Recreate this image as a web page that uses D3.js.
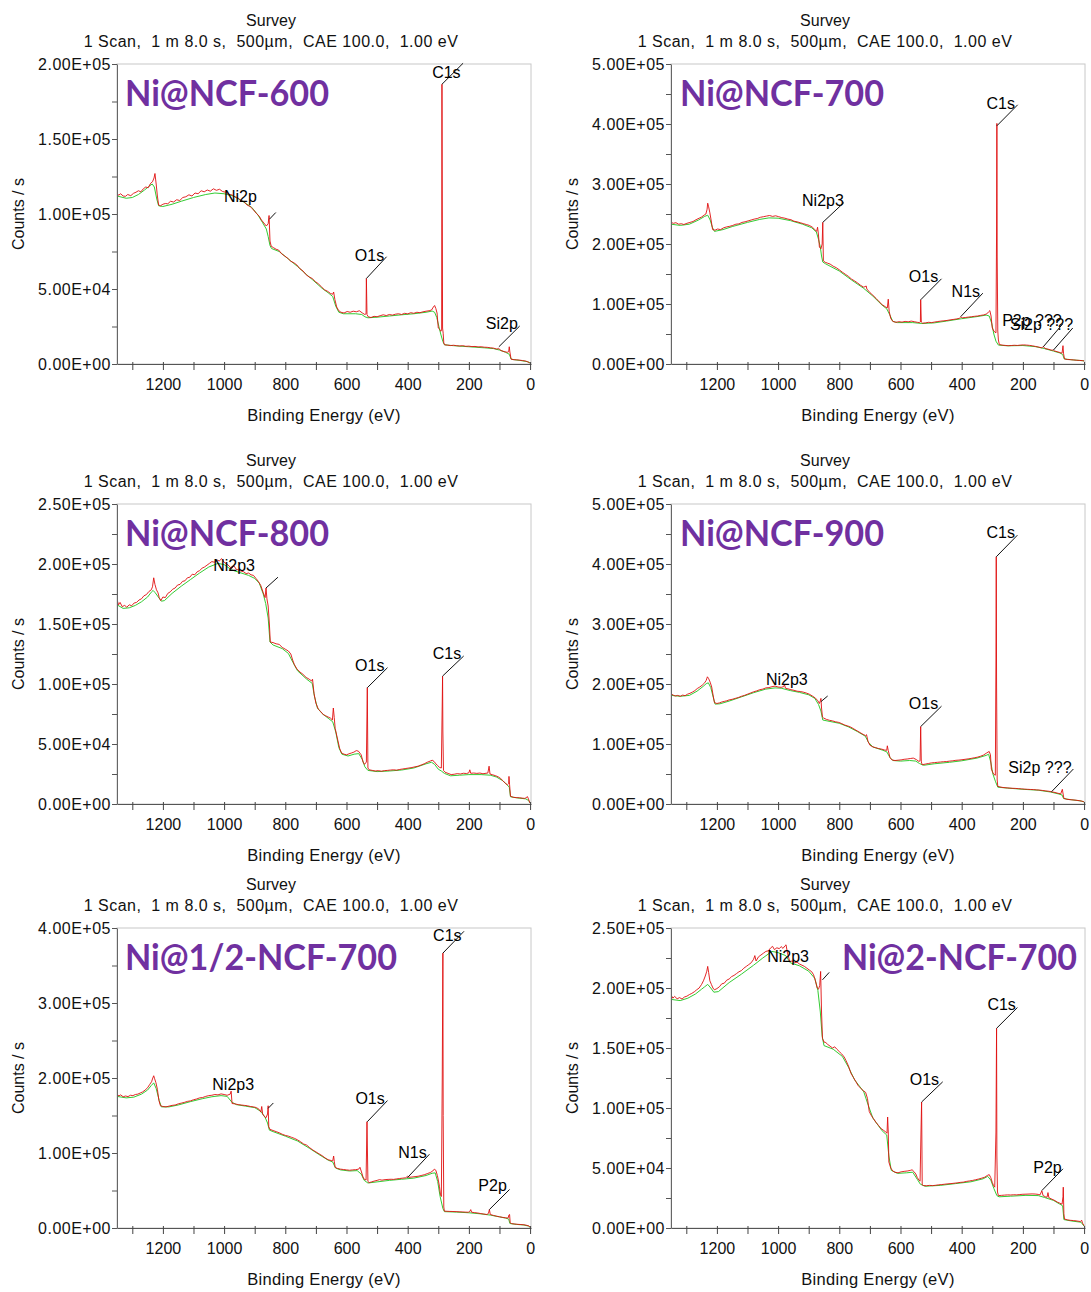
<!DOCTYPE html>
<html><head><meta charset="utf-8">
<script src="https://cdn.jsdelivr.net/npm/d3@7"></script>
<style>body{margin:0;background:#fff}svg{display:block}</style>
</head><body><svg id="c" width="1091" height="1292"></svg>
<script>
// ---------------- DATA ----------------
const sampleNames = ["Ni@NCF-600","Ni@NCF-700","Ni@NCF-800","Ni@NCF-900","Ni@1/2-NCF-700","Ni@2-NCF-700"];
const titleLine1 = "Survey";
const titleLine2 = "1 Scan,  1 m 8.0 s,  500\u00b5m,  CAE 100.0,  1.00 eV";
const xTitle = "Binding Energy (eV)";
const yTitle = "Counts / s";
const xTickLabels = [1200,1000,800,600,400,200,0];
const xAllTicks = [1300,1200,1100,1000,900,800,700,600,500,400,300,200,100,0];
const yMaxes = [200000,500000,250000,500000,400000,250000];
const yMajorSteps = [50000,100000,50000,100000,100000,50000];

const ncf600Raw = [[1350,114000],[1345,112500],[1338,113500],[1330,112000],[1322,111800],[1315,113000],[1305,112200],[1296,113800],[1288,114500],[1280,115500],[1272,114800],[1264,116800],[1256,118000],[1248,117500],[1240,120500],[1234,121500],[1229,124000],[1226,127000],[1222,120000],[1218,112000],[1214,106000],[1208,105500],[1200,106500],[1192,107000],[1184,106800],[1175,108500],[1165,108000],[1155,109500],[1145,109000],[1135,111000],[1125,111500],[1115,112800],[1105,112000],[1095,114000],[1085,113500],[1075,115500],[1065,114800],[1055,116000],[1045,115200],[1035,116800],[1025,115800],[1015,116500],[1005,115000],[995,114500],[985,113000],[975,112800],[965,111500],[955,110800],[945,109000],[935,108200],[925,106000],[915,105000],[905,103000],[895,100500],[885,98500],[878,96000],[870,94000],[862,92000],[856,93500],[853,99000],[850,82000],[846,78500],[838,77500],[830,76500],[822,76000],[812,73500],[802,72000],[792,70500],[782,68500],[772,67500],[762,66000],[752,63500],[742,62000],[732,59500],[722,58000],[712,57000],[702,55000],[692,53500],[682,51500],[672,49500],[662,48500],[652,47000],[645,46500],[642,48000],[638,43000],[632,38000],[625,35500],[618,34500],[608,34000],[598,35000],[588,34500],[578,35200],[568,34800],[558,35500],[548,34000],[540,33000],[536,33500],[535,57000],[533,33000],[529,31500],[520,31000],[510,31800],[500,31500],[490,32200],[480,32800],[470,32300],[460,33000],[450,32600],[440,33200],[430,33500],[420,33000],[410,33800],[400,33400],[390,34200],[380,33800],[370,34500],[360,34200],[350,34800],[340,35200],[330,35500],[322,36000],[316,38000],[312,39000],[308,37000],[304,34000],[300,24000],[295,23000],[292,21800],[289,22500],[288,186500],[286,24000],[284,20500],[282,14000],[279,12800],[270,12600],[260,12300],[250,12500],[240,12200],[230,12000],[220,12200],[210,11800],[200,11900],[190,11600],[180,11700],[170,11400],[160,11500],[150,11200],[140,11100],[130,10800],[120,10600],[110,10000],[102,10200],[95,9000],[85,8300],[75,7800],[70,8200],[68,11500],[66,8000],[62,3200],[55,2900],[45,2800],[35,2600],[25,2300],[15,2000],[8,1500],[3,1000],[0,300]];
const ncf600Bg = [[1350,112000],[1320,110500],[1300,111000],[1280,113000],[1260,116000],[1245,118500],[1235,120000],[1228,118000],[1220,110000],[1214,105500],[1200,105000],[1170,106500],[1140,108500],[1100,111000],[1060,113000],[1030,114000],[1000,113500],[970,112000],[940,108500],[910,104500],[890,99500],[875,94500],[862,90000],[856,85000],[850,79000],[845,77000],[820,75000],[790,70000],[760,65000],[730,59500],[710,56000],[680,50500],[660,47500],[645,45000],[635,38500],[625,34500],[610,33500],[570,33500],[550,33000],[540,31500],[530,30800],[500,31200],[460,32000],[420,32800],[380,33500],[340,34500],[320,35300],[312,34500],[305,31000],[298,25000],[292,20000],[285,15000],[280,12800],[250,12200],[200,11500],[150,10800],[120,10300],[100,9300],[80,7800],[68,6500],[62,3300],[50,2800],[30,2300],[10,1600],[0,800]];
const ncf600Peaks = [
  {t:"C1s", be:288, c:186500, be2:219, c2:200500, tbe:227, tc:191000},
  {t:"Ni2p", be:852, c:96500, be2:831, c2:101000, tbe:893, tc:108000},
  {t:"O1s", be:535, c:57000, be2:469, c2:71500, tbe:477, tc:68900},
  {t:"Si2p", be:102, c:11500, be2:34, c2:25300, tbe:40, tc:23100}];

const ncf700Raw = [[1350,236000],[1342,234500],[1334,235500],[1325,233000],[1316,233800],[1308,232500],[1298,234500],[1288,236000],[1278,237500],[1268,240500],[1258,243000],[1250,245000],[1242,248000],[1236,250000],[1232,258000],[1230,268000],[1227,262000],[1223,252000],[1219,240000],[1214,224000],[1206,223000],[1198,225000],[1188,224000],[1178,227000],[1168,228500],[1158,229500],[1148,231000],[1138,233000],[1128,233500],[1118,236000],[1108,237000],[1098,238500],[1088,240000],[1078,241500],[1068,242500],[1058,244500],[1048,245500],[1038,246500],[1028,247500],[1018,246000],[1008,247000],[998,245500],[988,244000],[978,243000],[968,241500],[958,240500],[948,238000],[938,237000],[928,235500],[918,234000],[908,232500],[898,231000],[888,228000],[880,224000],[874,221000],[871,228000],[868,215000],[865,195000],[860,192000],[856,200000],[854,236000],[852,172000],[846,169500],[838,168000],[830,166500],[820,163000],[810,160500],[800,157000],[790,153000],[780,149500],[770,146000],[760,141500],[750,138500],[740,135000],[730,131000],[720,128000],[712,130000],[710,125000],[700,119000],[690,114500],[680,109500],[670,104000],[660,99000],[650,95500],[643,93500],[640,108000],[637,88000],[632,76000],[625,71000],[615,69500],[605,70500],[595,69800],[585,71000],[575,70300],[565,71500],[555,70500],[545,69500],[538,69000],[535,70000],[534,107000],[532,70000],[528,68000],[518,68500],[508,69500],[498,69000],[488,70000],[478,70800],[468,71500],[458,72000],[448,72600],[438,73500],[428,74200],[418,75000],[408,76000],[403,78500],[398,77000],[388,77500],[378,78200],[368,78800],[358,79500],[348,80000],[338,81000],[328,81800],[318,83500],[312,87000],[308,89000],[304,80000],[300,60000],[295,55000],[291,53000],[288,52000],[286,220000],[285,401000],[284,180000],[282,55000],[280,40000],[277,32500],[268,31500],[258,31000],[248,30500],[238,30800],[228,31200],[218,30900],[208,31500],[198,31800],[188,31500],[178,31000],[168,30200],[158,29200],[148,28200],[138,26800],[133,29500],[128,25800],[118,24800],[108,23200],[100,23000],[98,22000],[88,20500],[78,19000],[72,18000],[69,30500],[67,17000],[64,8500],[55,7500],[45,7200],[35,6800],[25,6300],[15,6000],[5,5600],[0,5000]];
const ncf700Bg = [[1350,233000],[1320,231000],[1290,233000],[1260,240000],[1240,246000],[1230,248000],[1222,240000],[1215,228000],[1208,221000],[1180,224000],[1150,229000],[1100,236000],[1060,241000],[1030,243500],[1000,243000],[960,239000],[920,233000],[890,227000],[875,220000],[868,208000],[862,195000],[858,180000],[854,170000],[845,167000],[800,155000],[760,140000],[720,126000],[690,113000],[660,98000],[645,92000],[635,82000],[625,71000],[610,69000],[560,69000],[530,67500],[490,68500],[450,71500],[400,75500],[350,79000],[320,81500],[310,80000],[302,68000],[295,50000],[288,38000],[280,31500],[250,30300],[200,30800],[160,29000],[130,25800],[100,21500],[80,18500],[70,16000],[65,8500],[40,7000],[10,5700],[0,5200]];
const ncf700Peaks = [
  {t:"C1s", be:285, c:397000, be2:217, c2:432000, tbe:226, tc:425000},
  {t:"Ni2p3", be:854, c:236000, be2:785, c2:269000, tbe:785, tc:264000},
  {t:"O1s", be:534, c:107000, be2:466, c2:142000, tbe:477, tc:136000},
  {t:"N1s", be:403, c:79000, be2:331, c2:118000, tbe:340, tc:111000},
  {t:"P2p ???", be:133, c:28900, be2:70, c2:66700, tbe:73, tc:63000},
  {t:"Si2p ???", be:100, c:23300, be2:37, c2:60000, tbe:36, tc:56700}];

const ncf800Raw = [[1350,170500],[1345,166000],[1340,168000],[1333,164500],[1325,165500],[1318,164000],[1310,166000],[1302,165200],[1294,167500],[1286,168000],[1278,170000],[1270,171000],[1262,173500],[1254,174500],[1246,177000],[1238,178500],[1234,181000],[1230,188500],[1226,183000],[1221,178500],[1216,176000],[1212,172000],[1207,169500],[1200,172500],[1192,172000],[1184,175500],[1176,176800],[1168,179000],[1160,180000],[1152,182500],[1144,183000],[1136,185500],[1128,186000],[1120,188500],[1112,189000],[1104,191500],[1096,191000],[1088,193500],[1080,194500],[1072,196500],[1064,197500],[1056,199000],[1048,200500],[1040,202000],[1032,201500],[1024,203500],[1016,202500],[1008,204500],[1000,201500],[992,200000],[984,198500],[976,196000],[968,198500],[960,195500],[952,195000],[944,194000],[936,193500],[928,192000],[920,192500],[912,191000],[904,190500],[896,188000],[888,185500],[880,182000],[872,176000],[866,172000],[863,180000],[860,171000],[856,165000],[852,150000],[849,135000],[840,134500],[830,133500],[820,133000],[810,130500],[800,129000],[790,127500],[782,125000],[776,120000],[770,116000],[762,112500],[752,110000],[742,108000],[732,105500],[722,104000],[714,102500],[711,104000],[706,92000],[700,84000],[692,79000],[684,77000],[676,74500],[668,73500],[660,72500],[652,71500],[646,70000],[643,80000],[640,72000],[637,63000],[630,55000],[622,46000],[616,42500],[608,41500],[600,41000],[592,41800],[584,42500],[576,43200],[568,44500],[561,44000],[552,41000],[546,35000],[541,33000],[535,35000],[532,97000],[530,30000],[526,28500],[516,28000],[506,27500],[496,27800],[486,27300],[476,27800],[466,28000],[456,28300],[446,28500],[436,28200],[426,28800],[416,29200],[406,29600],[396,30000],[386,30400],[376,31000],[366,31500],[356,32500],[346,33500],[336,34800],[326,35800],[320,36500],[314,35500],[308,33500],[302,32000],[296,30500],[290,30000],[287,85000],[286,106500],[285,60000],[283,28000],[278,26500],[268,25500],[258,24500],[248,24800],[238,25300],[228,25000],[218,25600],[208,25400],[200,26000],[197,28500],[194,25600],[184,25800],[174,25500],[164,25800],[154,25200],[144,25600],[138,25800],[134,31500],[131,25000],[122,24300],[112,23500],[104,22600],[96,21200],[88,19200],[80,17000],[74,16000],[70,17000],[69,23000],[67,16000],[64,6500],[55,5600],[45,5300],[35,5200],[26,4900],[18,4700],[12,5200],[9,6200],[6,4800],[3,2500],[0,800]];
const ncf800Bg = [[1350,166000],[1330,163000],[1310,163500],[1290,165500],[1270,168500],[1250,172500],[1238,176500],[1232,178000],[1225,176000],[1215,172500],[1205,169000],[1195,169500],[1170,175500],[1140,181500],[1110,187000],[1080,192500],[1050,197500],[1020,200500],[1000,199500],[975,195000],[950,193000],[920,190500],[900,188000],[885,184000],[872,175000],[864,167000],[856,155000],[850,135000],[840,132500],[810,129500],[790,125500],[775,118000],[760,111000],[730,104000],[712,100500],[705,90000],[695,80000],[680,75500],[660,71500],[645,68500],[635,60000],[625,47000],[615,41500],[595,40000],[575,41500],[560,42000],[548,37000],[540,31000],[530,28000],[500,27000],[460,27500],[420,28300],[380,30000],[340,33500],[322,34800],[312,33000],[300,29000],[290,27500],[280,25500],[260,23500],[230,24000],[200,24500],[160,24500],[130,24000],[110,22500],[90,19500],[75,16000],[68,14000],[64,6000],[40,5000],[15,4300],[5,3000],[0,800]];
const ncf800Peaks = [
  {t:"Ni2p3", be:863, c:180000, be2:824, c2:189000, tbe:899, tc:194000},
  {t:"O1s", be:532, c:96900, be2:466, c2:113600, tbe:476, tc:110800},
  {t:"C1s", be:286, c:106600, be2:217, c2:123300, tbe:225, tc:120500}];

const ncf900Raw = [[1350,184000],[1343,181500],[1336,180000],[1328,181000],[1320,179500],[1312,181500],[1304,180500],[1296,183000],[1288,184500],[1280,186500],[1272,189000],[1264,192500],[1256,195000],[1248,198000],[1240,202000],[1235,206000],[1231,212000],[1227,209000],[1222,203000],[1217,195000],[1212,180000],[1208,169000],[1200,167500],[1192,168500],[1184,170000],[1176,171000],[1168,172000],[1160,173500],[1150,174500],[1140,176000],[1130,177500],[1120,179500],[1110,181000],[1100,183000],[1090,185000],[1080,187000],[1070,188500],[1060,190500],[1050,191500],[1040,193500],[1030,194000],[1020,195500],[1010,196500],[1000,195000],[990,194500],[982,195500],[979,199000],[976,193000],[968,192000],[958,190500],[948,189500],[938,188000],[928,187500],[918,186500],[908,185000],[898,183000],[888,180000],[878,176500],[870,172000],[865,167500],[862,172000],[860,176000],[858,160000],[855,145000],[852,143500],[842,141000],[832,139500],[822,138500],[812,137000],[802,136000],[792,134000],[782,131500],[772,130000],[762,128000],[752,125000],[742,122000],[732,119000],[722,116000],[714,114000],[711,115500],[706,104000],[700,98000],[692,95500],[682,94000],[672,92500],[662,91500],[652,90000],[645,89500],[643,97000],[640,89000],[634,77000],[628,73500],[618,72500],[608,73000],[598,73500],[588,74500],[578,75000],[568,75800],[558,76500],[548,74000],[540,71000],[536,72000],[534,129000],[532,70000],[529,65500],[519,66500],[509,67500],[499,68500],[489,69000],[479,69500],[469,70000],[459,70500],[449,70800],[439,71500],[429,72000],[419,72800],[409,73200],[399,73800],[389,74500],[379,75200],[369,76000],[359,77000],[349,78000],[339,79500],[329,81500],[320,84500],[314,86500],[310,87500],[306,82000],[303,58000],[298,52000],[294,49000],[290,48000],[288,240000],[287,412000],[286,200000],[284,40000],[282,29500],[275,28500],[265,27500],[255,27000],[245,26600],[235,26200],[225,26000],[215,25600],[205,25200],[195,24800],[185,24500],[175,24200],[165,24000],[155,23500],[145,23200],[135,22500],[125,21800],[115,21200],[105,20200],[95,19200],[85,17800],[76,17000],[73,22000],[71,24500],[68,15000],[66,9500],[56,7800],[46,7200],[36,6800],[26,6300],[16,5600],[8,4800],[2,4000],[0,3500]];
const ncf900Bg = [[1350,181000],[1320,179500],[1290,181000],[1265,188000],[1245,196000],[1235,200500],[1228,202000],[1220,194000],[1212,178000],[1206,166500],[1190,167000],[1160,171500],[1120,178500],[1080,185500],[1040,191500],[1010,193500],[990,193000],[960,189000],[930,186000],[900,182000],[880,176000],[868,166000],[860,155000],[854,140000],[840,138500],[800,134500],[770,128500],[740,120500],[715,113000],[705,103000],[690,95000],[660,90000],[645,87000],[635,78000],[625,72500],[600,71500],[570,72500],[550,71500],[538,67500],[525,64500],[490,67000],[440,69500],[400,72000],[350,76500],[320,81000],[312,83000],[305,70000],[298,50000],[290,38000],[282,28000],[250,26500],[200,24500],[150,23000],[110,20000],[85,17000],[72,15000],[67,9000],[40,7000],[10,5000],[0,3500]];
const ncf900Peaks = [
  {t:"C1s", be:287, c:412000, be2:218, c2:448000, tbe:226, tc:443000},
  {t:"Ni2p3", be:860, c:170600, be2:838, c2:180000, tbe:903, tc:198000},
  {t:"O1s", be:534, c:129000, be2:466, c2:163000, tbe:477, tc:157800},
  {t:"Si2p ???", be:106, c:20600, be2:35, c2:58300, tbe:41, tc:51000}];

const halfNcfRaw = [[1350,178800],[1344,176000],[1338,177500],[1330,175000],[1322,176000],[1314,175200],[1306,177000],[1298,176500],[1290,178000],[1282,178500],[1274,180000],[1266,181500],[1258,184000],[1250,187000],[1243,191500],[1237,195000],[1233,200000],[1230,203000],[1227,199000],[1223,194000],[1218,185000],[1213,170000],[1208,163000],[1200,162000],[1190,161500],[1180,162500],[1170,163500],[1160,164000],[1150,165500],[1140,166500],[1130,167500],[1120,168800],[1110,169500],[1100,171000],[1090,172000],[1080,173500],[1070,174000],[1060,175500],[1050,176500],[1040,177000],[1030,178000],[1020,177500],[1010,178800],[1000,178000],[990,177000],[980,178500],[977,182500],[974,166000],[964,165500],[954,164500],[944,164000],[934,163500],[924,163000],[914,162000],[904,161500],[894,160500],[885,158000],[880,154500],[877,162000],[874,152000],[868,148500],[863,147000],[858,152000],[856,163000],[854,135000],[850,131500],[840,130000],[830,128500],[820,127000],[810,125000],[800,123500],[790,122500],[780,121000],[770,119500],[760,117500],[750,115000],[740,112000],[730,110500],[720,107000],[710,104000],[700,101500],[690,99000],[680,96500],[670,93500],[660,91000],[650,90000],[645,89500],[642,96000],[640,89000],[637,81000],[630,79500],[620,78500],[610,78000],[600,77500],[590,77000],[580,77500],[570,77800],[560,78500],[556,81000],[552,76000],[546,68000],[542,65000],[536,64000],[533,141700],[530,62000],[526,60500],[518,61500],[510,62500],[500,63500],[492,64500],[484,63800],[474,64500],[464,64800],[454,65000],[446,64800],[436,65500],[426,66000],[416,66500],[406,67000],[401,69000],[396,67500],[386,68000],[376,68500],[366,69000],[356,70000],[346,71000],[336,72500],[326,74000],[318,76000],[313,78500],[308,77000],[303,70000],[300,64000],[296,55000],[293,45000],[290,42000],[287,200000],[285,366500],[284,150000],[282,28000],[280,22500],[272,22300],[262,22100],[252,22000],[242,21800],[232,21600],[222,21400],[212,21200],[202,21000],[197,22000],[194,24500],[191,21000],[181,20500],[171,20000],[161,19200],[151,18600],[141,18000],[136,19500],[133,24600],[130,18000],[120,16800],[110,15800],[100,15000],[90,14200],[80,13600],[72,13200],[69,17500],[67,18000],[65,7000],[60,5800],[50,5300],[40,4900],[30,4600],[20,4300],[10,3500],[4,2800],[0,900]];
const halfNcfBg = [[1350,175500],[1320,173500],[1295,174500],[1270,178500],[1250,184000],[1238,190000],[1230,193500],[1222,186000],[1212,170000],[1205,161500],[1180,161500],[1150,164000],[1110,168500],[1070,172500],[1040,175000],[1010,176500],[990,175500],[975,168000],[960,164500],[930,162500],[900,160500],[880,155500],[866,147500],[858,140000],[852,130500],[840,128500],[800,122500],[760,116000],[720,106000],[690,98000],[660,90500],[645,88000],[636,80000],[620,77500],[590,76000],[565,76500],[552,72000],[542,63500],[530,60000],[500,61500],[460,63500],[420,65000],[380,66500],[340,70000],[320,73000],[310,73500],[302,62000],[294,42000],[285,26000],[280,21800],[240,21200],[200,20300],[160,18800],[130,17200],[100,14800],[80,13200],[70,12000],[66,6000],[45,4800],[20,4000],[5,2500],[0,900]];
const halfNcfPeaks = [
  {t:"C1s", be:285, c:366500, be2:216, c2:395600, tbe:224, tc:383000},
  {t:"Ni2p3", be:856, c:159600, be2:839, c2:166700, tbe:902, tc:184600},
  {t:"O1s", be:532, c:141700, be2:466, c2:169900, tbe:475, tc:165400},
  {t:"N1s", be:401, c:67000, be2:329, c2:98300, tbe:338, tc:93900},
  {t:"P2p", be:133, c:24600, be2:67, c2:51400, tbe:76, tc:49200}];

const twoNcfRaw = [[1350,194300],[1344,191500],[1338,193000],[1330,191000],[1322,192000],[1314,190800],[1306,192500],[1298,193200],[1290,194500],[1282,195500],[1274,196800],[1266,198500],[1258,200000],[1250,203000],[1244,206000],[1238,210000],[1233,214000],[1230,218000],[1227,213000],[1223,206000],[1218,203000],[1213,200000],[1208,198500],[1200,199500],[1192,201000],[1184,203500],[1176,204000],[1168,206500],[1160,207500],[1152,209500],[1144,210500],[1136,212000],[1128,213500],[1120,214500],[1112,216500],[1104,218000],[1096,219500],[1088,221000],[1080,224000],[1076,227000],[1072,222500],[1064,226000],[1056,227500],[1048,229000],[1040,230500],[1032,231000],[1024,233500],[1018,234700],[1012,232000],[1004,233500],[996,232800],[990,234500],[984,233000],[978,235000],[974,236000],[970,230000],[966,226000],[962,222000],[954,222500],[946,221000],[938,221500],[930,220000],[922,219000],[914,218000],[906,216500],[898,215000],[890,213500],[884,211000],[878,206000],[872,200000],[868,199000],[864,202000],[861,213800],[858,180000],[855,158000],[850,155000],[844,154500],[838,153000],[830,151500],[822,150000],[815,151000],[808,149000],[800,147000],[792,145000],[784,142500],[778,139500],[770,135000],[762,129000],[754,125500],[746,122000],[738,118500],[730,116500],[722,114500],[714,113000],[708,108000],[702,97000],[696,94000],[688,91000],[680,88000],[672,85500],[664,83000],[656,81500],[648,80000],[644,79000],[642,92500],[640,80000],[638,55000],[632,50000],[625,47500],[618,46500],[608,46000],[598,46800],[588,47200],[578,47500],[568,48000],[562,48500],[556,47000],[550,45000],[545,42000],[540,40000],[536,39000],[533,80000],[531,105000],[529,36000],[525,35400],[515,35200],[505,35500],[495,35300],[485,35600],[475,36000],[465,36200],[455,36500],[445,36800],[435,37000],[425,37300],[415,37600],[405,38000],[395,38200],[385,38800],[375,39200],[365,39600],[355,40200],[345,40800],[335,41500],[325,42300],[316,43800],[310,44500],[305,42000],[300,38000],[296,35400],[292,34000],[288,80000],[286,166400],[285,60000],[283,30000],[280,27000],[270,27200],[260,27400],[250,27600],[240,27500],[230,27700],[220,27600],[210,27900],[200,28100],[190,28200],[180,28300],[170,28400],[160,28300],[150,28000],[144,27600],[138,31000],[134,27000],[126,26000],[121,25600],[118,29500],[115,25200],[105,24000],[95,22800],[87,21500],[80,20800],[72,19800],[69,26000],[68,34000],[66,12000],[64,7500],[55,6800],[45,6400],[35,6200],[30,6100],[20,5700],[12,5400],[8,6500],[5,4000],[0,2000]];
const twoNcfBg = [[1350,190500],[1320,189500],[1295,191500],[1270,195000],[1250,199000],[1240,201000],[1230,203000],[1220,200000],[1210,196500],[1195,197000],[1160,204500],[1120,211500],[1080,219000],[1050,225000],[1020,230500],[1000,229500],[975,227000],[960,221000],[930,218500],[900,214000],[880,208000],[870,198000],[862,180000],[856,160000],[850,152000],[820,149000],[790,143000],[770,134000],[750,123500],[720,113500],[705,102000],[690,91500],[660,81000],[645,77500],[638,60000],[630,48000],[610,45500],[580,46000],[560,46500],[545,40500],[535,36500],[520,34800],[470,35500],[420,37000],[370,38500],[330,41000],[315,43000],[305,40000],[295,33000],[285,27000],[278,26000],[240,26500],[190,27200],[150,27000],[130,25500],[100,23000],[80,20000],[70,18500],[66,7000],[40,5800],[10,4800],[0,1500]];
const twoNcfPeaks = [
  {t:"Ni2p3", be:855, c:206800, be2:833, c2:213000, tbe:899, tc:222000},
  {t:"C1s", be:286, c:166400, be2:218, c2:183700, tbe:223, tc:181700},
  {t:"O1s", be:531, c:105000, be2:462, c2:121800, tbe:474, tc:119000},
  {t:"P2p", be:138, c:31200, be2:69, c2:49300, tbe:73, tc:46000}];

const rawSeries = [ncf600Raw, ncf700Raw, ncf800Raw, ncf900Raw, halfNcfRaw, twoNcfRaw];
const bgSeries = [ncf600Bg, ncf700Bg, ncf800Bg, ncf900Bg, halfNcfBg, twoNcfBg];
const peakSeries = [ncf600Peaks, ncf700Peaks, ncf800Peaks, ncf900Peaks, halfNcfPeaks, twoNcfPeaks];

// ---------------- LAYOUT ----------------
const colLeft = [117, 671];
const rowTop = [64, 504, 928];
const plotW = 414, plotH = 300;
const nameLayout = [
  {dx:8, w:204}, {dx:9, w:204}, {dx:8, w:204},
  {dx:9, w:204}, {dx:8, w:272}, {dx:171, w:235}];
const FONT = "'Liberation Sans', Arial, sans-serif";

const svg = d3.select("#c");
svg.append("rect").attr("width",1091).attr("height",1292).attr("fill","#fff");

function sci(v){
  if (v === 0) return "0.00E+00";
  const e = Math.floor(Math.log10(v) + 1e-9);
  const m = v / Math.pow(10, e);
  return m.toFixed(2) + "E+" + String(e).padStart(2, "0");
}

sampleNames.forEach((name, i) => {
  const col = i % 2, row = Math.floor(i / 2);
  const L = colLeft[col], T = rowTop[row];
  const x = d3.scaleLinear().domain([1350, -3]).range([L, L + plotW]);
  const y = d3.scaleLinear().domain([0, yMaxes[i]]).range([T + plotH, T]);
  const g = svg.append("g");

  // titles
  g.append("text").attr("x", L + 154).attr("y", T - 38).attr("text-anchor","middle")
    .attr("font-family", FONT).attr("font-size", 16).attr("fill","#111").text(titleLine1);
  g.append("text").attr("x", L + 154).attr("y", T - 17).attr("text-anchor","middle")
    .attr("font-family", FONT).attr("font-size", 16).attr("fill","#111")
    .attr("letter-spacing", 0.5).style("white-space","pre").text(titleLine2);

  // frame (top/right light)
  g.append("rect").attr("x", L).attr("y", T).attr("width", plotW).attr("height", plotH)
    .attr("fill","none").attr("stroke","#c8c8c8").attr("stroke-width",1);

  // clip
  const cid = "clip" + i;
  svg.append("clipPath").attr("id", cid).append("rect")
    .attr("x", L).attr("y", T - 1).attr("width", plotW).attr("height", plotH + 1);

  const line = d3.line().x(d => x(d[0])).y(d => y(d[1]));
  const lg = g.append("g").attr("clip-path", `url(#${cid})`);
  lg.append("path").datum(bgSeries[i]).attr("d", line).attr("fill","none")
    .attr("stroke","#33cc33").attr("stroke-width",1);
  lg.append("path").datum(rawSeries[i]).attr("d", line).attr("fill","none")
    .attr("stroke","#e01010").attr("stroke-width",1).attr("stroke-opacity",0.9);

  // axes
  const step = yMajorSteps[i];
  const majors = d3.range(0, yMaxes[i] + 1, step);
  const minors = d3.range(step / 2, yMaxes[i], step);
  const yAxis = d3.axisLeft(y).tickValues(majors.concat(minors))
    .tickFormat(d => majors.includes(d) ? sci(d) : "")
    .tickSize(5).tickPadding(1).tickSizeOuter(0);
  const ya = g.append("g").attr("transform", `translate(${L},0)`).call(yAxis);
  ya.select(".domain").attr("stroke","#666");
  ya.selectAll(".tick line").attr("stroke","#555");
  ya.selectAll(".tick text").attr("font-family", FONT).attr("font-size", 16).attr("fill","#111")
    .attr("letter-spacing", 0.5);

  const xAxis = d3.axisBottom(x).tickValues(xAllTicks)
    .tickFormat(d => xTickLabels.includes(d) ? d : "")
    .tickSize(6).tickPadding(9).tickSizeOuter(0);
  const xa = g.append("g").attr("transform", `translate(0,${T + plotH})`).call(xAxis);
  xa.select(".domain").attr("stroke","#555");
  xa.selectAll(".tick line").attr("stroke","#444").attr("y1", -2);
  xa.selectAll(".tick text").attr("font-family", FONT).attr("font-size", 16).attr("fill","#111");

  // axis titles
  g.append("text").attr("x", L + plotW / 2).attr("y", T + plotH + 57).attr("text-anchor","middle")
    .attr("font-family", FONT).attr("font-size", 16.5).attr("fill","#111")
    .attr("letter-spacing", 0.3).text(xTitle);
  g.append("text").attr("transform", `translate(${L - 93},${T + plotH / 2}) rotate(-90)`)
    .attr("text-anchor","middle").attr("font-family", FONT).attr("font-size", 16)
    .attr("fill","#111").text(yTitle);

  // peak annotations
  peakSeries[i].forEach(p => {
    g.append("line").attr("x1", x(p.be)).attr("y1", y(p.c)).attr("x2", x(p.be2)).attr("y2", y(p.c2))
      .attr("stroke","#111").attr("stroke-width",1);
    g.append("text").attr("x", x(p.tbe)).attr("y", y(p.tc)).attr("text-anchor","end")
      .attr("font-family", FONT).attr("font-size", 16).attr("fill","#000")
      .style("white-space","pre").text(p.t);
  });

  // sample name
  const nl = nameLayout[i];
  g.append("text").attr("x", L + nl.dx).attr("y", T + 42)
    .attr("font-family", "Lato, 'Open Sans', sans-serif").attr("font-weight", 700)
    .attr("font-size", 36).attr("fill", "#7030A0")
    .attr("textLength", nl.w).attr("lengthAdjust", "spacingAndGlyphs").text(name);
});
</script></body></html>
